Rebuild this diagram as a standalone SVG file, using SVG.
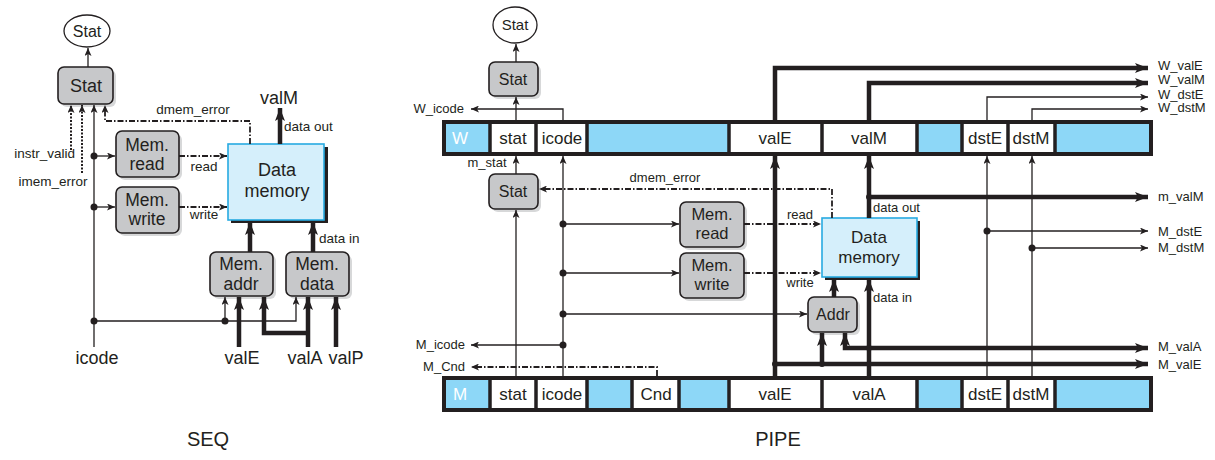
<svg xmlns="http://www.w3.org/2000/svg" width="1215" height="460" viewBox="0 0 1215 460">
<defs>
<marker id="a" markerUnits="userSpaceOnUse" markerWidth="8" markerHeight="7" refX="8" refY="3.5" orient="auto"><path d="M0,0 L8,3.5 L0,7 L2,3.5 z" fill="#231f20"/></marker>
<marker id="A" markerUnits="userSpaceOnUse" markerWidth="13" markerHeight="10" refX="13" refY="5" orient="auto"><path d="M0,0 L13,5 L0,10 L3,5 z" fill="#231f20"/></marker>
</defs>
<style>
text{font-family:"Liberation Sans",Arial,sans-serif;fill:#231f20}
.t{stroke:#231f20;stroke-width:1.3;fill:none}
.k{stroke:#231f20;stroke-width:4.5;fill:none}
.dd{stroke:#231f20;stroke-width:1.8;fill:none;stroke-dasharray:6,2,1.5,2}
.dt{stroke:#231f20;stroke-width:2;fill:none;stroke-dasharray:2,1.5}
.ta{marker-end:url(#a)}
.ka{marker-end:url(#A)}
.box{fill:#c7c8ca;stroke:#231f20;stroke-width:1.6}
.sh{fill:#bcbec0;opacity:0.6}
.dm{fill:#d5effb;stroke:#27aae1;stroke-width:1.6}
.dms{fill:#231f20}
.lb{font-size:13px}
.ls{font-size:13.5px}
.bx{font-size:17px;text-anchor:middle}
.rg{font-size:17px;text-anchor:middle}
.blu{fill:#8dd7f7}
.wh{fill:#ffffff}
.reg{fill:none;stroke:#231f20;stroke-width:4}
.sep{stroke:#231f20;stroke-width:3.5}
.dot{fill:#231f20}
</style>

<!-- ================= SEQ ================= -->
<g id="seq-stat-oval">
<ellipse cx="87" cy="31" rx="23" ry="16" fill="#fff" stroke="#231f20" stroke-width="1.3"/>
<text x="87" y="37" class="bx" style="font-size:16px">Stat</text>
</g>
<g id="seq-stat">
<rect x="61" y="70" width="55" height="37" rx="6" class="sh"/>
<rect x="58" y="67" width="55" height="37" rx="6" class="box"/>
<text x="86" y="92" class="bx" style="font-size:18px">Stat</text>
</g>
<g id="seq-memread">
<rect x="119" y="134" width="63" height="46" rx="6" class="sh"/>
<rect x="116" y="131" width="63" height="46" rx="6" class="box"/>
<text x="147" y="151" class="bx" style="font-size:17.5px">Mem.</text>
<text x="147" y="170" class="bx" style="font-size:17.5px">read</text>
</g>
<g id="seq-memwrite">
<rect x="119" y="190" width="63" height="46" rx="6" class="sh"/>
<rect x="116" y="187" width="63" height="46" rx="6" class="box"/>
<text x="147" y="206" class="bx" style="font-size:17.5px">Mem.</text>
<text x="147" y="225" class="bx" style="font-size:17.5px">write</text>
</g>
<g id="seq-datamem">
<rect x="231" y="147" width="97" height="76" class="dms"/>
<rect x="228" y="144" width="96" height="76" class="dm"/>
<text x="277" y="176" class="bx" style="font-size:18px">Data</text>
<text x="277" y="197" class="bx" style="font-size:18px">memory</text>
</g>
<g id="seq-memaddr">
<rect x="213" y="255" width="63" height="44" rx="6" class="sh"/>
<rect x="210" y="252" width="63" height="44" rx="6" class="box"/>
<text x="241" y="270" class="bx" style="font-size:17.5px">Mem.</text>
<text x="241" y="290" class="bx" style="font-size:17.5px">addr</text>
</g>
<g id="seq-memdata">
<rect x="289" y="255" width="63" height="44" rx="6" class="sh"/>
<rect x="286" y="252" width="63" height="44" rx="6" class="box"/>
<text x="317" y="270" class="bx" style="font-size:17.5px">Mem.</text>
<text x="317" y="290" class="bx" style="font-size:17.5px">data</text>
</g>

<g id="seq-connectors">
<path d="M88,67 V48" class="t ta"/>
<path d="M71,150 V105" class="dt ta"/>
<path d="M82,173 V105" class="dt ta"/>
<path d="M94,347 V105" class="t ta"/>
<path d="M250,144 V121 H105 V105" class="dd ta"/>
<path d="M94,156 H115" class="t ta"/>
<path d="M94,207 H115" class="t ta"/>
<path d="M179,156 H227" class="dd ta"/>
<path d="M179,207 H227" class="dd ta"/>
<path d="M94,321 H296 V297" class="t ta"/>
<path d="M225,321 V297" class="t ta"/>
<path d="M280,144 V108" class="k ka"/>
<path d="M250,252 V222" class="k ka"/>
<path d="M313,252 V222" class="k ka"/>
<path d="M239,347 V297" class="k ka"/>
<path d="M308,347 V297" class="k ka"/>
<path d="M308,333 H264 V297" class="k ka"/>
<path d="M336,347 V297" class="k ka"/>
<circle cx="94" cy="156" r="3.5" class="dot"/>
<circle cx="94" cy="207" r="3.5" class="dot"/>
<circle cx="94" cy="321" r="3.5" class="dot"/>
<circle cx="225" cy="321" r="3.5" class="dot"/>
</g>

<g id="seq-labels">
<text x="193" y="114" class="ls" text-anchor="middle">dmem_error</text>
<text x="75" y="158" class="ls" text-anchor="end">instr_valid</text>
<text x="53" y="186" class="ls" text-anchor="middle">imem_error</text>
<text x="204" y="171" class="ls" text-anchor="middle">read</text>
<text x="204" y="219" class="ls" text-anchor="middle">write</text>
<text x="279" y="104" class="bx" style="font-size:18px">valM</text>
<text x="284" y="131" class="ls">data out</text>
<text x="319" y="243" class="ls">data in</text>
<text x="97" y="364" class="bx" style="font-size:18px">icode</text>
<text x="242" y="364" class="bx" style="font-size:18px">valE</text>
<text x="305" y="364" class="bx" style="font-size:18px">valA</text>
<text x="346" y="364" class="bx" style="font-size:18px">valP</text>
<text x="208" y="446" class="bx" style="font-size:20px">SEQ</text>
</g>

<!-- ================= PIPE ================= -->
<g id="pipe-stat-oval">
<ellipse cx="515" cy="25" rx="22" ry="18" fill="#fff" stroke="#231f20" stroke-width="1.3"/>
<text x="515" y="30" class="bx" style="font-size:15px">Stat</text>
</g>
<g id="pipe-stat-w">
<rect x="492" y="65" width="49" height="34" rx="6" class="sh"/>
<rect x="489" y="62" width="49" height="34" rx="6" class="box"/>
<text x="513" y="85" class="bx" style="font-size:16px">Stat</text>
</g>
<g id="pipe-stat-m">
<rect x="492" y="177" width="49" height="35" rx="6" class="sh"/>
<rect x="489" y="174" width="49" height="35" rx="6" class="box"/>
<text x="513" y="197" class="bx" style="font-size:16px">Stat</text>
</g>
<g id="pipe-memread">
<rect x="683" y="205" width="64" height="45" rx="6" class="sh"/>
<rect x="680" y="202" width="64" height="45" rx="6" class="box"/>
<text x="712" y="220" class="bx" style="font-size:16.5px">Mem.</text>
<text x="712" y="239" class="bx" style="font-size:16.5px">read</text>
</g>
<g id="pipe-memwrite">
<rect x="683" y="256" width="64" height="45" rx="6" class="sh"/>
<rect x="680" y="253" width="64" height="45" rx="6" class="box"/>
<text x="712" y="271" class="bx" style="font-size:16.5px">Mem.</text>
<text x="712" y="290" class="bx" style="font-size:16.5px">write</text>
</g>
<g id="pipe-datamem">
<rect x="825" y="221" width="95" height="59" class="dms"/>
<rect x="822" y="218" width="95" height="59" class="dm"/>
<text x="869" y="243" class="bx">Data</text>
<text x="869" y="263" class="bx">memory</text>
</g>
<g id="pipe-addr">
<rect x="811" y="300" width="49" height="35" rx="6" class="sh"/>
<rect x="808" y="297" width="49" height="35" rx="6" class="box"/>
<text x="833" y="320" class="bx" style="font-size:16px">Addr</text>
</g>

<g id="pipe-W">
<rect x="444" y="122" width="46" height="32" class="blu"/>
<rect x="490" y="122" width="46" height="32" class="wh"/>
<rect x="536" y="122" width="51" height="32" class="wh"/>
<rect x="587" y="122" width="142" height="32" class="blu"/>
<rect x="729" y="122" width="93" height="32" class="wh"/>
<rect x="822" y="122" width="95" height="32" class="wh"/>
<rect x="917" y="122" width="45" height="32" class="blu"/>
<rect x="962" y="122" width="46" height="32" class="wh"/>
<rect x="1008" y="122" width="47" height="32" class="wh"/>
<rect x="1055" y="122" width="96" height="32" class="blu"/>
<path d="M490,122V154M536,122V154M587,122V154M729,122V154M822,122V154M917,122V154M962,122V154M1008,122V154M1055,122V154" class="sep"/>
<rect x="444" y="122" width="707" height="32" class="reg"/>
<text x="460" y="144" class="rg" style="fill:#fff">W</text>
<text x="513" y="144" class="rg">stat</text>
<text x="562" y="144" class="rg">icode</text>
<text x="775" y="144" class="rg">valE</text>
<text x="869" y="144" class="rg">valM</text>
<text x="985" y="144" class="rg">dstE</text>
<text x="1031" y="144" class="rg">dstM</text>
</g>

<g id="pipe-M">
<rect x="444" y="378" width="46" height="32" class="blu"/>
<rect x="490" y="378" width="46" height="32" class="wh"/>
<rect x="536" y="378" width="51" height="32" class="wh"/>
<rect x="587" y="378" width="45" height="32" class="blu"/>
<rect x="632" y="378" width="47" height="32" class="wh"/>
<rect x="679" y="378" width="50" height="32" class="blu"/>
<rect x="729" y="378" width="93" height="32" class="wh"/>
<rect x="822" y="378" width="95" height="32" class="wh"/>
<rect x="917" y="378" width="45" height="32" class="blu"/>
<rect x="962" y="378" width="46" height="32" class="wh"/>
<rect x="1008" y="378" width="47" height="32" class="wh"/>
<rect x="1055" y="378" width="96" height="32" class="blu"/>
<path d="M490,378V410M536,378V410M587,378V410M632,378V410M679,378V410M729,378V410M822,378V410M917,378V410M962,378V410M1008,378V410M1055,378V410" class="sep"/>
<rect x="444" y="378" width="707" height="32" class="reg"/>
<text x="460" y="400" class="rg" style="fill:#fff">M</text>
<text x="513" y="400" class="rg">stat</text>
<text x="562" y="400" class="rg">icode</text>
<text x="656" y="400" class="rg">Cnd</text>
<text x="775" y="400" class="rg">valE</text>
<text x="869" y="400" class="rg">valA</text>
<text x="985" y="400" class="rg">dstE</text>
<text x="1031" y="400" class="rg">dstM</text>
</g>

<g id="pipe-connectors">
<path d="M516,120 V97" class="t ta"/>
<path d="M516,62 V44" class="t ta"/>
<path d="M563,120 V109 H471" class="t ta"/>
<path d="M516,174 V156" class="t ta"/>
<path d="M516,376 V210" class="t ta"/>
<path d="M563,376 V156" class="t ta"/>
<path d="M563,224 H679" class="t ta"/>
<path d="M563,273 H679" class="t ta"/>
<path d="M563,314 H807" class="t ta"/>
<path d="M563,345 H471" class="t ta"/>
<path d="M657,376 V367 H471" class="dd ta"/>
<path d="M832,218 V189 H539" class="dd ta"/>
<path d="M744,224 H821" class="dd ta"/>
<path d="M744,273 H821" class="dd ta"/>
<path d="M987,120 V97 H1148" class="t ta"/>
<path d="M1032,120 V109 H1148" class="t ta"/>
<path d="M987,376 V156" class="t ta"/>
<path d="M1032,376 V156" class="t ta"/>
<path d="M987,231 H1148" class="t ta"/>
<path d="M1032,248 H1148" class="t ta"/>
<circle cx="987" cy="231" r="3.5" class="dot"/>
<circle cx="1032" cy="248" r="3.5" class="dot"/>
<circle cx="563" cy="224" r="3.5" class="dot"/>
<circle cx="563" cy="273" r="3.5" class="dot"/>
<circle cx="563" cy="314" r="3.5" class="dot"/>
<circle cx="563" cy="345" r="3.5" class="dot"/>

<path d="M775,376 V156" class="k ka"/>
<path d="M775,120 V68 H1148" class="k ka"/>
<path d="M869,120 V83 H1148" class="k ka"/>
<path d="M869,218 V156" class="k ka"/>
<path d="M869,197 H1148" class="k ka"/>
<path d="M869,376 V279" class="k ka"/>
<path d="M834,297 V279" class="k ka"/>
<path d="M869,348 H1148" class="k ka"/>
<path d="M869,348 H845 V333" class="k ka"/>
<path d="M775,364 H1148" class="k ka"/>
<path d="M822,364 V333" class="k ka"/>
<circle cx="775" cy="364" r="3" class="dot"/>
<circle cx="822" cy="364" r="3" class="dot"/>
<circle cx="869" cy="348" r="3" class="dot"/>
<circle cx="869" cy="197" r="3" class="dot"/>
</g>

<g id="pipe-labels">
<text x="464" y="113" class="lb" text-anchor="end">W_icode</text>
<text x="487" y="167" class="lb" text-anchor="middle">m_stat</text>
<text x="665" y="182" class="lb" text-anchor="middle">dmem_error</text>
<text x="800" y="219" class="lb" text-anchor="middle">read</text>
<text x="800" y="287" class="lb" text-anchor="middle">write</text>
<text x="873" y="212" class="lb">data out</text>
<text x="873" y="302" class="lb">data in</text>
<text x="465" y="349" class="lb" text-anchor="end">M_icode</text>
<text x="465" y="371" class="lb" text-anchor="end">M_Cnd</text>
<text x="1158" y="70" class="lb">W_valE</text>
<text x="1158" y="84" class="lb">W_valM</text>
<text x="1158" y="99" class="lb">W_dstE</text>
<text x="1158" y="112" class="lb">W_dstM</text>
<text x="1158" y="201" class="lb">m_valM</text>
<text x="1158" y="236" class="lb">M_dstE</text>
<text x="1158" y="252" class="lb">M_dstM</text>
<text x="1158" y="351" class="lb">M_valA</text>
<text x="1158" y="369" class="lb">M_valE</text>
<text x="778" y="446" class="bx" style="font-size:20px">PIPE</text>
</g>
</svg>
